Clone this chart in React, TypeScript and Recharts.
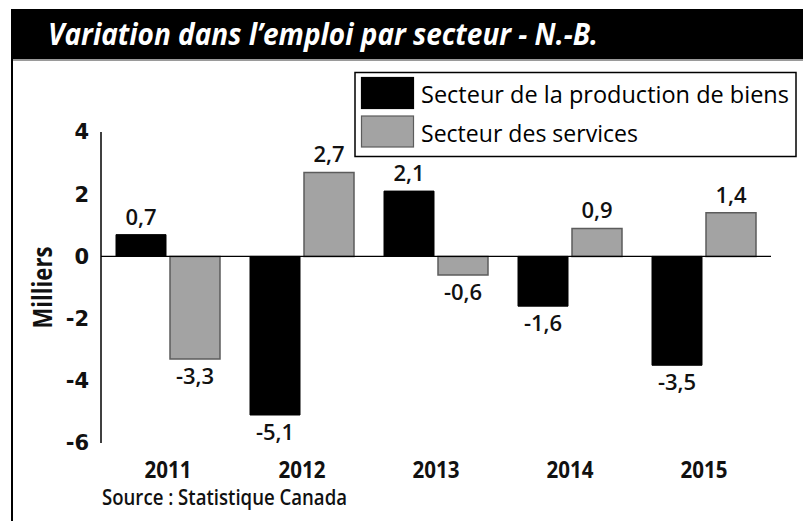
import React from 'react';
import { BarChart, Bar, XAxis, YAxis, ReferenceLine, LabelList } from 'recharts';

const years = ['2011', '2012', '2013', '2014', '2015'];
const goodsSector = [0.7, -5.1, 2.1, -1.6, -3.5];
const servicesSector = [-3.3, 2.7, -0.6, 0.9, 1.4];
const yTicks = [-6, -4, -2, 0, 2, 4];
const seriesNames = ['Secteur de la production de biens', 'Secteur des services'];
const seriesColors = ['#000000', '#a3a3a3'];
const seriesStrokes = ['#000000', '#5c5c5c'];

const data = years.map((year, i) => ({
    year,
    goods: goodsSector[i],
    services: servicesSector[i],
}));

const sans = "'Open Sans', 'Noto Sans', sans-serif";

const fmt = (v: number) => v.toFixed(1).replace('.', ',');

const ValueLabel = (props: any) => {
    const { x, y, width, height, value } = props;
    const top = Math.min(y, y + height);
    const bottom = Math.max(y, y + height);
    const cy = value >= 0 ? top - 18 : bottom + 17;
    return (
        <text x={x + width / 2} y={cy} dy="0.36em" textAnchor="middle"
              fontFamily={sans} fontSize={22} fontWeight={600} fill="#111">
            {fmt(value)}
        </text>
    );
};

const YearTick = (props: any) => {
    const { x, y, payload } = props;
    return (
        <text x={x} y={y + 35} textAnchor="middle" fontFamily={sans} fontSize={24} fontWeight={700}
              fill="#111" textLength={47} lengthAdjust="spacingAndGlyphs">
            {payload.value}
        </text>
    );
};

const MilliersLabel = (p: any) => {
    const cy = p.viewBox.y + p.viewBox.height / 2;
    return (
        <text x={43} y={cy} textAnchor="middle" dy="0.36em" transform={`rotate(-90 43 ${cy})`}
              fontFamily={sans} fontSize={26} fontWeight={700} fill="#111"
              textLength={82} lengthAdjust="spacingAndGlyphs">
            Milliers
        </text>
    );
};

const legendWidths = [368, 217];

const App = () => (
    <div style={{ position: 'absolute', left: 0, top: 0, width: 803, height: 521, background: '#fff' }}>
        <div style={{ position: 'absolute', left: 0, top: 0 }}>
            <BarChart width={803} height={521} data={data} barGap={4} barSize={50}
                      margin={{ top: 132, right: 32, bottom: 48, left: 41 }}>
                <XAxis dataKey="year" axisLine={false} tickLine={false} tickSize={0} tickMargin={0} height={30}
                       tick={<YearTick />} />
                <YAxis domain={[-6, 4]} ticks={yTicks} tickLine={false} tickSize={0} tickMargin={12} width={60}
                       axisLine={{ stroke: '#000', strokeWidth: 1.5 }}
                       tick={{ fontFamily: "'DejaVu Sans', sans-serif", fontSize: 21, fontWeight: 700, fill: '#111' }}
                       label={{ content: MilliersLabel }} />
                <ReferenceLine y={0} stroke="#000" strokeWidth={1.2} />
                <Bar dataKey="goods" name={seriesNames[0]} fill={seriesColors[0]} stroke={seriesStrokes[0]}
                     isAnimationActive={false}>
                    <LabelList dataKey="goods" content={ValueLabel} />
                </Bar>
                <Bar dataKey="services" name={seriesNames[1]} fill={seriesColors[1]} stroke={seriesStrokes[1]}
                     strokeWidth={1.5} isAnimationActive={false}>
                    <LabelList dataKey="services" content={ValueLabel} />
                </Bar>
            </BarChart>
        </div>

        {/* header, frame, legend box and source */}
        <svg width={803} height={521} style={{ position: 'absolute', left: 0, top: 0 }}>
            <rect x={11} y={9} width={792} height={50} fill="#000" />
            <line x1={11} y1={60} x2={803} y2={60} stroke="#9a9a9a" strokeWidth={2} />
            <text x={48} y={45} fill="#fff" fontFamily={sans} fontSize={30} fontWeight={700} fontStyle="italic"
                  textLength={550} lengthAdjust="spacingAndGlyphs">
                Variation dans l’emploi par secteur - N.-B.
            </text>
            <line x1={12} y1={59} x2={12} y2={521} stroke="#000" strokeWidth={2} />

            <rect x={355} y={72.5} width={441} height={84} fill="none" stroke="#000" strokeWidth={1.5} />
            {seriesNames.map((name, i) => (
                <g key={name}>
                    <rect x={361.5} y={77.5 + i * 38.5} width={52} height={31} fill={seriesColors[i]}
                          stroke={seriesStrokes[i]} strokeWidth={1.2} />
                    <text x={421} y={103 + i * 38.5} fontFamily={sans} fontSize={24} fill="#000"
                          textLength={legendWidths[i]} lengthAdjust="spacingAndGlyphs">
                        {name}
                    </text>
                </g>
            ))}

            <text x={102} y={505} fontFamily={sans} fontSize={21} fontWeight={600} fill="#111"
                  textLength={245} lengthAdjust="spacingAndGlyphs">
                Source : Statistique Canada
            </text>
        </svg>
    </div>
);

export default App;
